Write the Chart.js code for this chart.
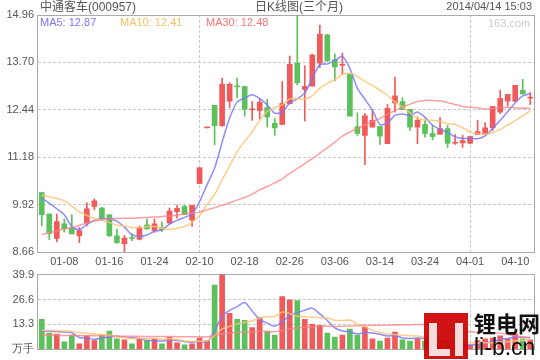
<!DOCTYPE html>
<html><head><meta charset="utf-8">
<script src="https://cdn.jsdelivr.net/npm/chart.js@4.4.1/dist/chart.umd.min.js"></script>
<style>
html,body{margin:0;padding:0;background:#fff;width:540px;height:360px;overflow:hidden;}
body{position:relative;font-family:"Liberation Sans","Noto Sans CJK SC",sans-serif;}
canvas{position:absolute;left:0;}
#c1{top:0;}
#c2{top:264px;}
.t{position:absolute;font-size:11px;line-height:11px;white-space:nowrap;color:#555;}
#logo{position:absolute;left:424px;top:313px;width:44px;height:46px;background:rgba(204,0,0,0.92);}
#logo i{position:absolute;background:rgba(255,255,255,0.85);}
</style></head><body>
<canvas id="c1" width="540" height="272"></canvas>
<canvas id="c2" width="540" height="96"></canvas>
<div class="t" style="left:40px;top:1px;font-size:12px;line-height:12px;">中通客车(000957)</div>
<div class="t" style="left:255px;top:1px;font-size:12px;line-height:12px;">日K线图(三个月)</div>
<div class="t" style="right:8px;top:1px;">2014/04/14 15:03</div>
<div class="t" style="left:40px;top:17px;color:#7878ff;">MA5: 12.87</div>
<div class="t" style="left:120px;top:17px;color:#ffc064;">MA10: 12.41</div>
<div class="t" style="left:206px;top:17px;color:#ff7272;">MA30: 12.48</div>
<div class="t" style="left:488px;top:18px;color:#ccc;">163.com</div>
<div id="logo"><i style="left:5px;top:10px;width:8px;height:33px;"></i><i style="left:13px;top:36px;width:13px;height:7px;"></i><i style="left:31px;top:10px;width:8px;height:33px;"></i></div>
<div class="t" style="left:474px;top:310px;font-size:22px;line-height:24px;color:#111;font-weight:bold;font-family:'Noto Sans CJK SC';letter-spacing:0px;">锂电网</div>
<div class="t" style="left:474px;top:335px;font-size:23px;line-height:24px;color:#111;">li-b.cn</div>
<script>
const dates = ['01-03','01-06','01-07','01-08','01-09','01-10','01-13','01-14','01-15','01-16','01-17','01-20','01-21','01-22','01-23','01-24','01-27','01-28','01-29','01-30','02-07','02-10','02-11','02-12','02-13','02-14','02-17','02-18','02-19','02-20','02-21','02-24','02-25','02-26','02-27','02-28','03-03','03-04','03-05','03-06','03-07','03-10','03-11','03-12','03-13','03-14','03-17','03-18','03-19','03-20','03-21','03-24','03-25','03-26','03-27','03-28','03-31','04-01','04-02','04-03','04-04','04-08','04-09','04-10','04-11','04-14'];
const tickDates = ['01-08','01-16','01-24','02-10','02-18','02-26','03-06','03-14','03-24','04-01','04-10'];
const opens = [10.24,9.67,9.02,9.41,9.32,9.09,9.43,9.87,9.83,9.65,9.09,8.88,9.04,9.00,9.38,9.23,9.30,9.43,9.73,9.87,9.51,10.48,11.96,12.56,12.02,12.67,13.07,13.06,12.44,12.42,12.50,12.08,12.05,12.60,13.68,12.98,13.07,13.68,14.43,13.77,13.62,13.38,11.99,11.76,11.98,12.00,11.54,12.62,12.66,12.45,11.98,12.05,11.81,11.79,11.94,11.55,11.56,11.55,11.78,11.78,11.96,12.38,12.67,12.67,12.96,12.75];
const highs = [10.25,9.67,9.67,9.54,9.65,9.31,9.97,10.07,9.85,9.65,9.27,9.10,9.14,9.35,9.54,9.54,9.46,9.83,9.91,9.90,9.90,10.90,11.96,12.56,13.28,13.16,13.28,13.06,12.66,12.72,12.72,12.21,13.19,13.87,14.96,13.61,13.92,14.69,14.45,13.93,13.95,13.38,12.36,12.34,12.45,12.00,12.58,13.31,12.76,12.45,12.25,12.18,12.04,12.23,12.02,11.78,11.76,11.73,12.16,12.10,12.53,12.96,12.85,13.09,13.25,12.90];
const lows = [9.36,8.99,8.93,9.19,9.14,8.91,9.35,9.78,9.54,9.07,8.89,8.66,8.96,8.98,9.27,9.18,9.21,9.41,9.56,9.65,9.34,10.48,11.96,11.51,12.00,12.50,12.76,12.27,12.16,12.19,11.98,11.76,12.05,12.60,13.10,12.14,13.07,13.56,13.72,13.21,13.38,12.27,11.76,10.98,11.98,11.52,11.54,12.38,12.45,11.89,11.54,11.71,11.64,11.79,11.44,11.52,11.44,11.53,11.78,11.78,11.89,12.34,12.54,12.65,12.86,12.58];
const closes = [9.65,9.15,9.47,9.28,9.14,9.23,9.81,10.02,9.56,9.09,8.91,9.03,9.02,9.31,9.27,9.41,9.25,9.75,9.82,9.65,9.90,10.90,11.96,12.02,13.12,13.12,13.05,12.45,12.46,12.64,12.25,11.96,12.61,13.65,13.16,13.06,13.90,14.45,13.74,13.58,13.65,12.27,11.81,12.28,12.16,11.74,12.48,12.81,12.45,11.98,12.16,11.81,11.73,11.94,11.55,11.57,11.62,11.73,11.86,11.96,12.53,12.74,12.85,13.09,12.86,12.77];
const ma5 = [10.09,9.96,9.81,9.65,9.34,9.25,9.39,9.50,9.55,9.54,9.48,9.32,9.12,9.07,9.11,9.21,9.25,9.40,9.50,9.58,9.67,10.00,10.45,10.89,11.58,12.22,12.65,12.75,12.84,12.74,12.57,12.35,12.38,12.62,12.73,12.89,13.28,13.64,13.66,13.75,13.86,13.54,13.01,12.72,12.43,12.05,12.09,12.29,12.33,12.29,12.38,12.24,12.03,11.92,11.84,11.72,11.68,11.68,11.67,11.75,11.94,12.16,12.39,12.63,12.81,12.87];
const ma10 = [10.17,10.13,10.08,10.02,9.88,9.73,9.63,9.55,9.50,9.44,9.37,9.35,9.31,9.31,9.33,9.34,9.29,9.26,9.29,9.34,9.44,9.63,9.92,10.19,10.58,10.95,11.33,11.60,11.86,12.16,12.40,12.50,12.57,12.73,12.74,12.73,12.81,13.01,13.14,13.24,13.38,13.41,13.33,13.19,13.09,12.96,12.82,12.65,12.52,12.36,12.21,12.17,12.16,12.13,12.07,12.05,11.96,11.85,11.80,11.79,11.83,11.92,12.04,12.15,12.28,12.41];
const ma30 = [9.13,9.17,9.22,9.27,9.31,9.37,9.43,9.49,9.52,9.54,9.55,9.56,9.56,9.57,9.58,9.59,9.60,9.62,9.64,9.67,9.70,9.72,9.78,9.84,9.90,9.97,10.04,10.11,10.20,10.31,10.40,10.50,10.60,10.75,10.88,11.01,11.14,11.29,11.43,11.58,11.74,11.85,11.94,12.04,12.13,12.21,12.32,12.42,12.51,12.59,12.66,12.69,12.69,12.68,12.63,12.58,12.53,12.51,12.49,12.46,12.47,12.50,12.51,12.49,12.48,12.48];
const volumes = [16.0,8.7,8.2,4.0,7.7,3.0,7.3,4.7,7.7,9.8,5.6,5.1,3.0,5.6,4.7,5.6,3.0,6.6,3.5,2.4,3.0,6.1,4.7,34.3,39.9,19.2,16.0,15.5,11.7,17.1,9.8,7.7,28.2,26.5,26.0,16.0,13.4,12.9,8.7,6.6,7.7,10.8,7.7,11.9,5.6,4.5,6.1,9.2,5.1,4.5,5.6,4.5,3.8,2.4,3.0,1.2,2.4,2.4,4.7,5.6,6.1,7.2,5.6,8.2,5.6,5.1];
const volMa5 = [9.9,9.7,9.5,9.3,8.92,6.32,6.04,5.34,6.08,6.50,7.02,6.58,6.24,5.82,4.80,4.80,4.38,5.10,4.68,4.22,3.70,4.32,3.94,10.10,17.60,20.84,22.82,24.98,20.46,15.90,14.02,12.36,14.90,17.86,19.64,20.88,22.02,18.96,15.40,11.52,9.86,9.34,8.30,8.94,8.74,8.10,7.16,7.46,6.10,5.88,6.10,5.78,4.70,4.16,3.86,2.98,2.56,2.28,2.74,3.26,4.24,5.20,5.84,6.54,6.54,6.34];
const volMa10 = [10.2,10.1,10.0,9.8,9.5,9.0,8.6,8.2,7.9,7.71,6.67,6.31,5.79,5.95,5.65,5.91,5.48,5.67,5.25,4.51,4.25,4.35,4.52,7.39,10.91,12.27,13.57,14.46,15.28,16.75,17.39,17.55,19.90,19.12,17.73,17.45,17.19,16.93,16.63,15.58,15.37,15.68,13.63,12.17,10.13,8.98,8.25,7.88,7.52,7.31,7.10,6.47,6.08,5.13,4.87,4.54,4.17,3.49,3.45,3.56,3.61,3.88,4.06,4.64,4.90,5.29];
const volMa30 = [7.6,7.55,7.5,7.45,7.4,7.35,7.3,7.25,7.2,7.15,7.1,7.05,7.0,6.95,6.9,6.9,6.85,6.85,6.8,6.8,6.75,6.75,6.7,7.5,8.4,8.8,9.0,9.2,9.35,9.65,9.45,9.41,10.08,10.83,11.43,11.86,12.07,12.34,12.37,12.27,12.34,12.53,12.68,12.89,12.92,12.89,12.99,13.08,13.13,13.20,13.29,13.23,13.20,12.14,10.91,10.31,9.87,9.43,9.20,8.82,8.69,8.68,7.92,7.31,6.63,6.27];
const priceTicks = [8.66,9.92,11.18,12.44,13.70,14.96];
const volTicks = [0,13.3,26.6,39.9];

const RED = '#f05a5a', GREEN = '#5cc05c';
const C5 = 'rgba(120,120,255,0.85)', C10 = 'rgba(255,196,120,0.85)', C30 = 'rgba(255,130,130,0.75)';
const FONT = {family:'"Liberation Sans", Arial, sans-serif', size:11};
const GRID = '#c8c8c8';
const upColor = opens.map((o,i)=> closes[i] >= o ? RED : GREEN);

const boxPlugin = {
  id:'box',
  beforeDatasetsDraw(chart){
    const {ctx, chartArea:a} = chart;
    ctx.save();
    ctx.strokeStyle = '#aaa'; ctx.lineWidth = 1; ctx.setLineDash([]);
    const l = Math.floor(a.left)-0.5, t = Math.floor(a.top)+0.5, r = Math.floor(a.right)+0.5, b = Math.floor(a.bottom)+0.5;
    ctx.strokeRect(l, t, r-l, b-t);
    ctx.restore();
  }
};

function xScale(showLabels){
  return {
    type:'category', offset:true,
    grid:{offset:false, drawTicks:false, lineWidth:1,
      color: c => tickDates.includes(dates[c.index]) ? GRID : 'rgba(0,0,0,0)'},
    border:{display:false, dash:[3,2]},
    ticks:{display:showLabels, autoSkip:false, maxRotation:0, minRotation:0, padding:3, color:'#555', font:FONT,
      callback:(v,i)=> tickDates.includes(dates[i]) ? dates[i] : null},
    afterFit: s => { s.height = showLabels ? 20 : 0; }
  };
}
function lineDs(data, color, order){
  return {type:'line', data, borderColor:color, borderWidth:1.5, pointRadius:0, tension:0.25, order};
}

new Chart(document.getElementById('c1'), {
  type:'bar',
  data:{labels:dates, datasets:[
    lineDs(ma30, C30, 0), lineDs(ma10, C10, 0), lineDs(ma5, C5, 0),
    {data: lows.map((l,i)=>[l, highs[i]]), backgroundColor:upColor, barThickness:1, grouped:false, order:2},
    {data: opens.map((o,i)=>[Math.min(o,closes[i]), Math.max(o,closes[i])]), backgroundColor:upColor, barThickness:5, minBarLength:1, grouped:false, order:1}
  ]},
  options:{
    responsive:false, animation:false, devicePixelRatio:1,
    layout:{padding:{top:15, right:6, left:0, bottom:0}},
    plugins:{legend:{display:false}, tooltip:{enabled:false}},
    scales:{
      x: xScale(true),
      y:{min:8.66, max:14.96,
        afterBuildTicks: s => { s.ticks = priceTicks.map(v=>({value:v})); },
        grid:{drawTicks:false, color: c => (c.index===0 || c.index===priceTicks.length-1) ? 'rgba(0,0,0,0)' : GRID},
        border:{display:false, dash:[3,2]},
        ticks:{padding:4, color:'#555', font:FONT, callback: v => Number(v).toFixed(2)},
        afterFit: s => { s.width = 38; }
      }
    }
  },
  plugins:[boxPlugin]
});

new Chart(document.getElementById('c2'), {
  type:'bar',
  data:{labels:dates, datasets:[
    lineDs(volMa30, C30, 0), lineDs(volMa10, C10, 0), lineDs(volMa5, C5, 0),
    {data: volumes, backgroundColor:upColor, barThickness:5, order:1}
  ]},
  options:{
    responsive:false, animation:false, devicePixelRatio:1,
    layout:{padding:{top:10, right:6, left:0, bottom:9}},
    plugins:{legend:{display:false}, tooltip:{enabled:false}},
    scales:{
      x: xScale(false),
      y:{min:0, max:39.9,
        afterBuildTicks: s => { s.ticks = volTicks.map(v=>({value:v})); },
        grid:{drawTicks:false, color: c => (c.index===0 || c.index===volTicks.length-1) ? 'rgba(0,0,0,0)' : GRID},
        border:{display:false, dash:[3,2]},
        ticks:{padding:4, color:'#555', font:FONT, callback: v => v === 0 ? '万手' : Number(v).toFixed(1)},
        afterFit: s => { s.width = 38; }
      }
    }
  },
  plugins:[boxPlugin]
});
</script>
</body></html>
